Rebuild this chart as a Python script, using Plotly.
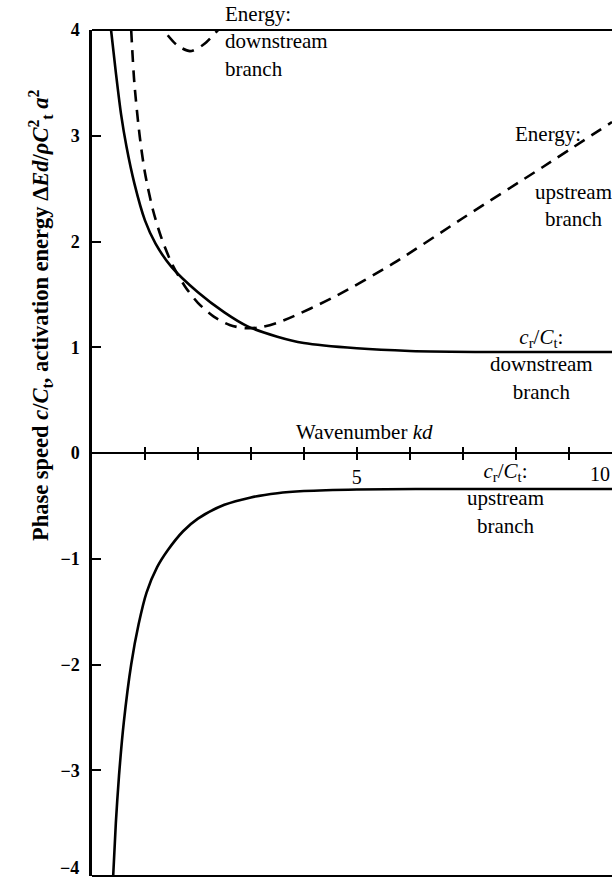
import plotly.graph_objects as go

# ---- data ----
kd_down = [0.36, 0.45, 0.55, 0.65, 0.8, 1.0, 1.2, 1.5, 2.0, 2.5, 2.93, 3.5, 4.0, 5.0, 6.0, 7.5, 9.82]
c_down = [4.0, 3.6, 3.2, 2.9, 2.55, 2.2, 1.98, 1.76, 1.52, 1.33, 1.2, 1.10, 1.04, 0.99, 0.965, 0.955, 0.955]

kd_up = [0.40, 0.45, 0.51, 0.6, 0.74, 0.88, 1.03, 1.23, 1.43, 1.72, 2.0, 2.5, 3.0, 3.5, 4.0, 5.0, 7.0, 9.82]
c_up = [-4.0, -3.5, -3.05, -2.55, -2.0, -1.62, -1.32, -1.08, -0.92, -0.74, -0.62, -0.49, -0.42, -0.38, -0.36, -0.345, -0.34, -0.34]

kd_e_up = [0.74, 0.8, 0.9, 1.0, 1.15, 1.3, 1.5, 1.75, 2.0, 2.3, 2.6, 2.9, 3.2, 3.6, 4.55, 5.68, 7.0, 8.5, 9.82]
e_up = [4.0, 3.5, 3.0, 2.65, 2.3, 2.05, 1.80, 1.58, 1.42, 1.29, 1.21, 1.18, 1.19, 1.25, 1.47, 1.79, 2.22, 2.70, 3.13]

kd_e_down = [1.2, 1.35, 1.6, 1.85, 2.1, 2.38, 2.55]
e_down = [4.1, 4.0, 3.86, 3.80, 3.86, 4.0, 4.1]

x_tickvals = [1, 2, 3, 4, 5, 6, 7, 8, 9]
x_ticktext = ["", "", "", "", "5", "", "", "", ""]
y_tickvals = [-4, -3, -2, -1, 0, 1, 2, 3, 4]
y_ticktext = ["", "\u22123", "\u22122", "\u22121", "0", "1", "2", "3", "4"]

FONT = "Liberation Serif"
LW = 2.6
DASH = "12px,8px"

fig = go.Figure()
fig.add_trace(go.Scatter(x=kd_down, y=c_down, mode="lines", line=dict(color="black", width=LW, shape="spline", smoothing=0.8), showlegend=False))
fig.add_trace(go.Scatter(x=kd_up, y=c_up, mode="lines", line=dict(color="black", width=LW, shape="spline", smoothing=0.8), showlegend=False))
fig.add_trace(go.Scatter(x=kd_e_up, y=e_up, mode="lines", line=dict(color="black", width=LW, dash=DASH, shape="spline", smoothing=0.8), showlegend=False))
fig.add_trace(go.Scatter(x=kd_e_down, y=e_down, mode="lines", line=dict(color="black", width=LW, dash=DASH, shape="spline", smoothing=0.8), showlegend=False))

fig.update_layout(
    width=612, height=877,
    margin=dict(l=92, r=0, t=30, b=1),
    paper_bgcolor="white", plot_bgcolor="white",
    font=dict(family=FONT, color="black"),
    xaxis=dict(range=[0, 9.82], anchor="free", position=0.5, showline=True, linecolor="black", linewidth=2,
               tickvals=x_tickvals, ticktext=x_ticktext, ticks="outside", ticklen=6, tickwidth=2, tickcolor="black",
               showgrid=False, zeroline=False, tickfont=dict(size=20, family=FONT)),
    xaxis2=dict(range=[0, 9.82], overlaying="x", anchor="free", position=0.5, showline=False,
                tickvals=x_tickvals, ticks="inside", ticklen=6, tickwidth=2, tickcolor="black",
                showticklabels=False, showgrid=False, zeroline=False),
    yaxis=dict(range=[-4, 4], showline=True, linecolor="black", linewidth=2.5,
               tickvals=y_tickvals, ticktext=y_ticktext, ticks="inside", ticklen=9, tickwidth=2, tickcolor="black",
               showgrid=False, zeroline=False, ticklabelstandoff=6,
               tickfont=dict(size=18, family=FONT, weight="bold")),
)
# invisible trace to realise xaxis2 ticks
fig.add_trace(go.Scatter(x=[0.5], y=[0], xaxis="x2", mode="markers", marker=dict(opacity=0), showlegend=False, hoverinfo="skip"))

# frame lines top and bottom
fig.add_shape(type="line", xref="paper", yref="paper", x0=0, x1=1, y0=1, y1=1, line=dict(color="black", width=2))
fig.add_shape(type="line", xref="paper", yref="paper", x0=0, x1=1, y0=0, y1=0, line=dict(color="black", width=2))

A = dict(showarrow=False, font=dict(family=FONT, size=21, color="black"))
fig.add_annotation(x=2.47, y=3.89, text="Energy:<br>downstream<br>branch", xanchor="left", yanchor="middle", align="left", **A)
fig.add_annotation(x=7.95, y=3.02, text="Energy:", xanchor="left", yanchor="middle", **A)
fig.add_annotation(x=9.1, y=2.34, text="upstream<br>branch", xanchor="center", yanchor="middle", align="center", **A)
fig.add_annotation(x=8.48, y=0.84, text="<i>c</i><sub>r</sub>/<i>C</i><sub>t</sub>:<br>downstream<br>branch", xanchor="center", yanchor="middle", align="center", **A)
fig.add_annotation(x=5.14, y=0.2, text="Wavenumber <i>kd</i>", xanchor="center", yanchor="middle", **A)
fig.add_annotation(x=7.8, y=-0.43, text="<i>c</i><sub>r</sub>/<i>C</i><sub>t</sub>:<br>upstream<br>branch", xanchor="center", yanchor="middle", align="center", **A)
fig.add_annotation(x=9.82, y=-0.2, text="10", xanchor="right", yanchor="middle", showarrow=False, font=dict(family=FONT, size=20, color="black"))
fig.add_annotation(xref="paper", x=-0.022, y=-3.92, text="\u22124", xanchor="right", yanchor="middle", showarrow=False,
                   font=dict(family=FONT, size=18, color="black", weight="bold"))

fig.add_annotation(xref="paper", yref="paper", x=-0.1, y=0.663, xanchor="center", yanchor="middle", textangle=-90,
                   text="Phase speed <i>c</i>/<i>C</i><sub>t</sub>, activation energy \u0394<i>Ed</i>/<i>\u03c1C</i><sup>2</sup><sub>t</sub> <i>a</i><sup>2</sup>",
                   showarrow=False, font=dict(family=FONT, size=22.5, color="black", weight="bold"))

fig.write_html("out.html", config={"displayModeBar": False},
               post_script="document.body.style.margin='0';document.body.style.padding='0';document.documentElement.style.overflow='hidden';document.body.style.overflow='hidden';")
